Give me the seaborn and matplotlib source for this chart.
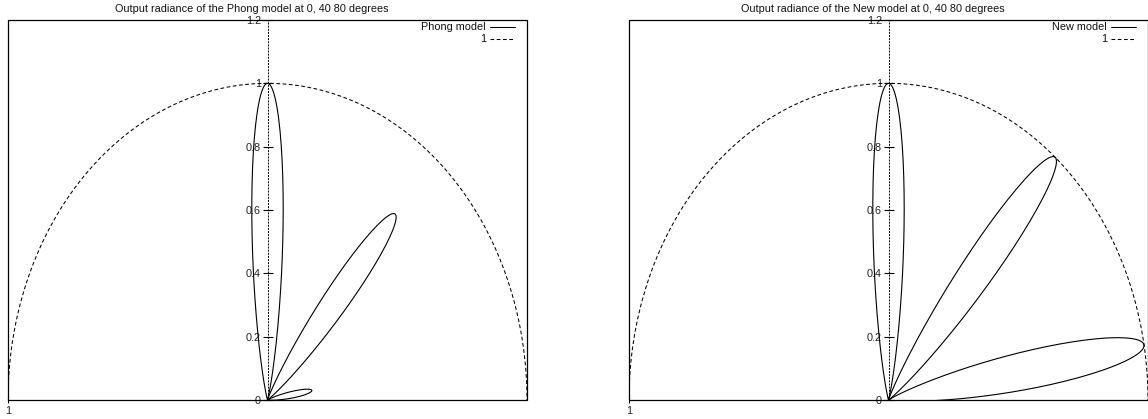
import numpy as np
import pandas as pd
import matplotlib
matplotlib.use("Agg")
import matplotlib.pyplot as plt
from matplotlib.patches import Rectangle
from matplotlib.lines import Line2D
import seaborn as sns

# Reflection angles of the three lobes (degrees from the surface normal)
lobe_angles = [0, 40, 80]
# Specular exponent of the cosine lobe
shininess = 100
# Radius of the reference circle
circle_radius = 1.0

panel_titles = [
    "Output radiance of the Phong model at 0, 40 80 degrees",
    "Output radiance of the New model at 0, 40 80 degrees",
]
model_names = ["Phong model", "New model"]
y_ticks = [0, 0.2, 0.4, 0.6, 0.8, 1.0, 1.2]
y_tick_labels = ["0", "0.2", "0.4", "0.6", "0.8", "1", "1.2"]
x_ticks = [-1]
x_tick_labels = ["1"]

sns.set_theme(style="white")
plt.rcParams["font.family"] = ["Liberation Sans", "DejaVu Sans"]
FS = 7.8
DASH = (0, (3.6, 2.4))
DOTS = (0, (1.0, 2.2))


def lobe(theta_r, scaled):
    """Polar cosine lobe around theta_r, returned in Cartesian form."""
    phi = np.radians(np.linspace(theta_r - 90, theta_r + 90, 721))
    tr = np.radians(theta_r)
    amp = np.cos(tr) if scaled else 1.0
    r = amp * np.clip(np.cos(phi - tr), 0, None) ** shininess
    return pd.DataFrame({"x": r * np.sin(phi), "y": r * np.cos(phi)})


def unit_circle():
    phi = np.radians(np.linspace(-90, 90, 361))
    return pd.DataFrame({"x": circle_radius * np.sin(phi),
                         "y": circle_radius * np.cos(phi)})


fig = plt.figure(figsize=(11.48, 4.19), dpi=100)
W, H = 1148, 419
panel_lefts = [8, 629]
pw, ph = 519, 380
bottom_px = 400

for i, left in enumerate(panel_lefts):
    ax = fig.add_axes([left / W, (H - bottom_px) / H, pw / W, ph / H])
    scaled = i == 0

    for ang in lobe_angles:
        d = lobe(ang, scaled)
        sns.lineplot(data=d, x="x", y="y", sort=False, estimator=None,
                     color="black", lw=0.8, ax=ax)
    c = unit_circle()
    sns.lineplot(data=c, x="x", y="y", sort=False, estimator=None,
                 color="black", lw=0.75, ax=ax, linestyle=DASH)

    ax.set_xlim(-1, 1)
    ax.set_ylim(0, 1.2)
    ax.set_xlabel("")
    ax.set_ylabel("")

    # zero axes drawn dotted
    ax.spines["left"].set_position(("data", 0))
    ax.spines["left"].set_linestyle(DOTS)
    ax.spines["left"].set_linewidth(0.7)
    ax.spines["left"].set_color("black")
    ax.axhline(0, color="black", lw=0.7, ls=DOTS, zorder=3)
    for s in ["top", "right", "bottom"]:
        ax.spines[s].set_visible(False)
    ax.add_patch(Rectangle((0, 0), 1, 1, transform=ax.transAxes, fill=False,
                           edgecolor="black", lw=0.9, clip_on=False, zorder=4))

    ax.set_yticks(y_ticks)
    ax.set_yticklabels(y_tick_labels)
    ax.set_xticks(x_ticks)
    ax.set_xticklabels(x_tick_labels)
    ax.tick_params(axis="both", direction="inout", length=7.2, width=0.8,
                   color="black", labelsize=FS, labelcolor="#222222", pad=1.2)
    ax.tick_params(axis="x", length=5, pad=1.5)
    ax.yaxis.set_ticks_position("left")
    ax.xaxis.set_ticks_position("bottom")

    ax.set_title(panel_titles[i], fontsize=FS, pad=5.5, color="#111111",
                 x=0.5 - 16 / pw)

    # key in the upper right corner
    tx = 1 - 41 / pw
    lx0, lx1 = 1 - 37 / pw, 1 - 12 / pw
    rows = [(model_names[i], "-"), ("1", DASH)]
    for k, (lab, ls) in enumerate(rows):
        yy = 1 - (7 + 12 * k) / ph
        ax.text(tx, yy, lab, transform=ax.transAxes, ha="right", va="center",
                fontsize=FS, color="#111111")
        ax.add_line(Line2D([lx0, lx1], [yy, yy], transform=ax.transAxes,
                           color="black", lw=0.75, linestyle=ls))

fig.savefig("out.png", dpi=100)
